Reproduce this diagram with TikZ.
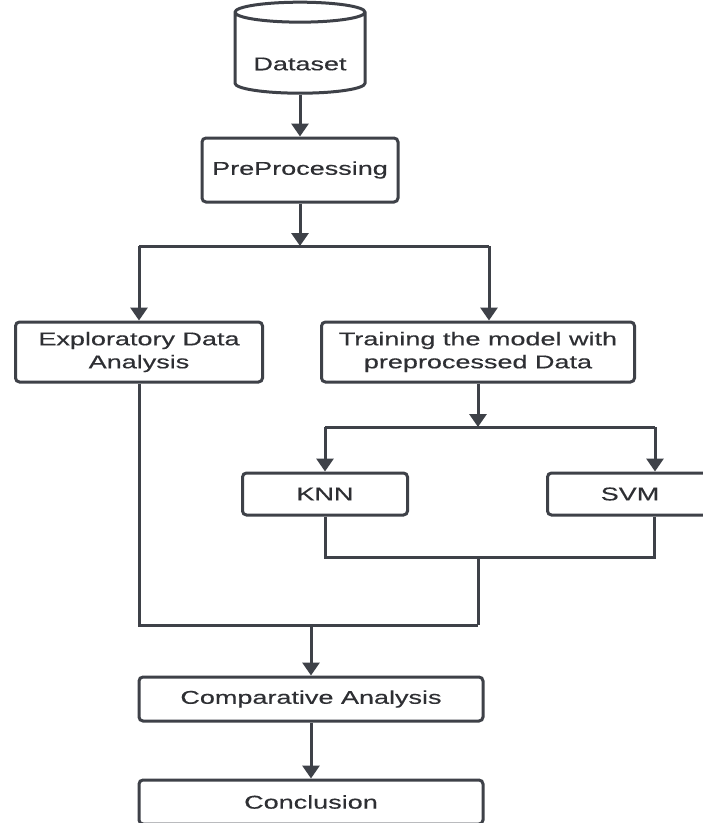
\documentclass[tikz,border=0pt]{standalone}
\usepackage{fontspec}
\setmainfont{Liberation Sans}[FakeStretch=1.46,FakeBold=0.4]
\usetikzlibrary{arrows.meta,shapes.geometric}
\definecolor{lineclr}{HTML}{3E4148}
\definecolor{textclr}{HTML}{2E2F33}
\tikzset{
  box/.style={draw=lineclr,line width=3pt,rounded corners=4pt,fill=white,text=textclr,
    align=center,inner sep=0pt,font=\fontsize{18.5}{23}\selectfont},
  flow/.style={draw=lineclr,line width=3pt,-{Triangle[width=17pt,length=13pt]}},
  wire/.style={draw=lineclr,line width=3pt}
}
\begin{document}
\begin{tikzpicture}[x=1pt,y=-1pt]
  \useasboundingbox[fill=white] (0,0) rectangle (703,823);
  % boxes
  \node[draw=lineclr,line width=3pt,fill=white,text=textclr,cylinder,shape border rotate=90,aspect=0.2,
        minimum width=130pt,minimum height=91pt,font=\fontsize{18.5}{23}\selectfont] (data) at (300,55) {\raisebox{-9pt}[\height][\depth]{Dataset}};
  \node[box,minimum width=196pt,minimum height=64pt] (pre) at (300,170) {PreProcessing};
  \node[box,minimum width=247pt,minimum height=60pt] (eda) at (139,352) {Exploratory Data\\Analysis};
  \node[box,minimum width=313pt,minimum height=60pt] (train) at (478,352) {Training the model with\\preprocessed Data};
  \node[box,minimum width=165pt,minimum height=42pt] (knn) at (325,494) {KNN};
  \node[box,minimum width=165pt,minimum height=42pt] (svm) at (630,494) {SVM};
  \node[box,minimum width=344pt,minimum height=44pt] (comp) at (311,699) {Comparative Analysis};
  \node[box,minimum width=344pt,minimum height=44pt] (concl) at (311,802) {Conclusion};
  % branch points
  \coordinate (fork) at (300,246);
  \coordinate (forkL) at (139,246);
  \coordinate (forkR) at (489,246);
  \coordinate (fork2) at (478,427);
  \coordinate (fork2L) at (325,427);
  \coordinate (fork2R) at (655,427);
  \coordinate (join1) at (478,557);
  \coordinate (join1R) at (654,557);
  \coordinate (join2) at (478,625);
  % connectors
  \draw[flow] (data) -- (pre);
  \draw[flow] (pre) -- (fork);
  \draw[wire] (forkL) -- (forkR);
  \draw[flow] (forkL) -- (eda);
  \draw[flow] (forkR) -- (forkR |- train.north);
  \draw[flow] (train) -- (fork2);
  \draw[wire] (fork2L) -- (fork2R);
  \draw[flow] (fork2L) -- (knn);
  \draw[flow] (fork2R) -- (fork2R |- svm.north);
  \draw[wire] (knn.south) |- (join1R) -- (join1R |- svm.south);
  \draw[wire] (join1) -- (join2);
  \draw[wire] (eda.south) |- (join2);
  \draw[flow] (comp.north |- join2) -- (comp);
  \draw[flow] (comp) -- (concl);
\end{tikzpicture}
\end{document}
